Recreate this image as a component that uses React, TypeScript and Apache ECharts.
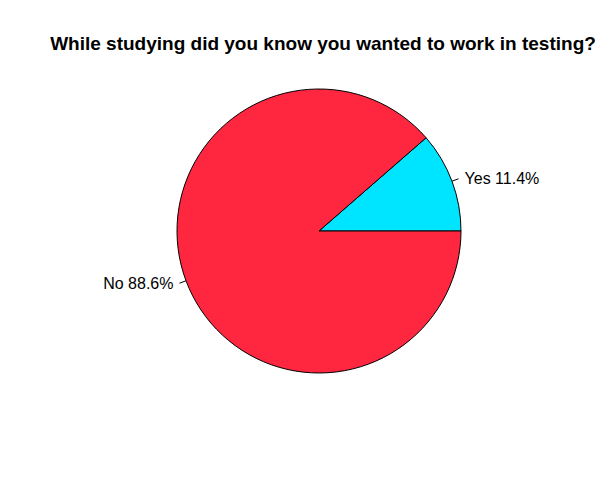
import React, { useEffect, useRef } from "react";
import * as echarts from "echarts";

const categories = ["Yes", "No"];
const percents = [11.4, 88.6];
const colors = ["#00E5FF", "#FF2640"];
const titleText = "While studying did you know you wanted to work in testing?";

export default function App() {
  const ref = useRef<HTMLDivElement>(null);
  useEffect(() => {
    document.body.style.margin = "0";
    const chart = echarts.init(ref.current!, null, { renderer: "svg" });
    chart.setOption({
      animation: false,
      backgroundColor: "#ffffff",
      title: {
        text: titleText,
        left: 318,
        top: 29,
        textAlign: "center",
        textStyle: {
          fontFamily: "Liberation Sans, Arial, sans-serif",
          fontSize: 19,
          fontWeight: "bold",
          color: "#000",
        },
      },
      series: [
        {
          type: "pie",
          center: [319, 231],
          radius: 142,
          startAngle: 0,
          clockwise: false,
          avoidLabelOverlap: false,
          data: categories.map((c, i) => ({
            name: c,
            value: percents[i],
            itemStyle: { color: colors[i] },
          })),
          itemStyle: { borderColor: "#000", borderWidth: 1 },
          label: {
            show: true,
            position: "outside",
            formatter: (p: any) => `${p.name} ${p.value}%`,
            fontFamily: "Liberation Sans, Arial, sans-serif",
            fontSize: 16,
            color: "#000",
            distanceToLabelLine: 6,
          },
          labelLine: {
            show: true,
            length: 7,
            length2: 0,
            lineStyle: { color: "#000", width: 1 },
          },
          emphasis: { disabled: true },
        },
      ],
    });
    return () => chart.dispose();
  }, []);
  return <div ref={ref} style={{ width: 600, height: 500 }} />;
}
